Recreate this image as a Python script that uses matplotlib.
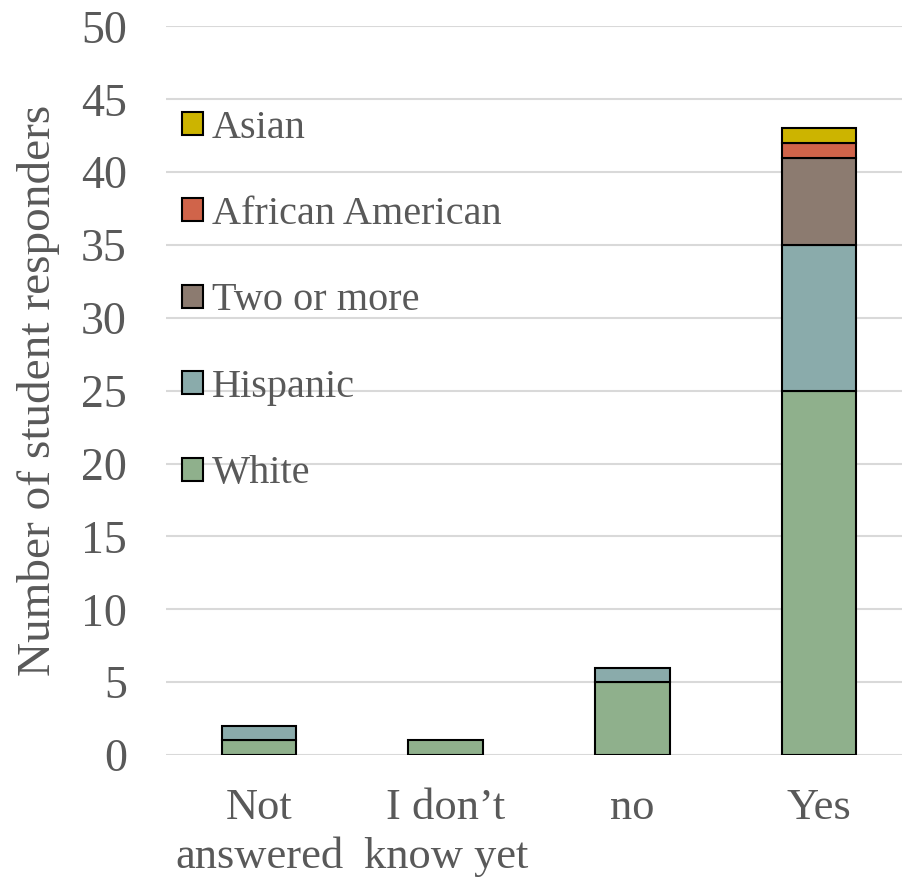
import matplotlib
matplotlib.use("Agg")
import matplotlib.pyplot as plt
import numpy as np

categories = ["Not\nanswered", "I don\u2019t\nknow yet", "no", "Yes"]
series_names = ["White", "Hispanic", "Two or more", "African American", "Asian"]
white = [1, 1, 5, 25]
hispanic = [1, 0, 1, 10]
two_or_more = [0, 0, 0, 6]
african_american = [0, 0, 0, 1]
asian = [0, 0, 0, 1]
colors = ["#8fb08c", "#8aabab", "#8c7b70", "#d0644a", "#ccb400"]

plt.rcParams["font.family"] = ["Liberation Serif", "DejaVu Serif"]
text_color = "#595959"

fig = plt.figure(figsize=(9.03, 8.82), dpi=100)
ax = fig.add_axes([0.1835, 0.144, 0.827, 0.826])

x = np.arange(len(categories))
bottom = np.zeros(len(categories))
handles = []
for name, vals, col in zip(series_names,
                           [white, hispanic, two_or_more, african_american, asian],
                           colors):
    vals = np.array(vals, dtype=float)
    mask = vals > 0
    b = ax.bar(x[mask], vals[mask], bottom=bottom[mask], width=0.4,
               color=col, edgecolor="black", linewidth=1.5, label=name, zorder=3)
    handles.append(b)
    bottom += vals

ax.set_xlim(-0.5, 3.5)
ax.set_ylim(0, 50)
ax.set_yticks(np.arange(0, 51, 5))
ax.yaxis.grid(True, color="#d9d9d9", linewidth=1.5, zorder=0)
ax.set_axisbelow(True)
for s in ax.spines.values():
    s.set_visible(False)
ax.tick_params(axis="both", length=0, colors=text_color)
ax.tick_params(axis="y", pad=28, labelsize=33)
ax.tick_params(axis="x", pad=24, labelsize=32)
ax.set_xticks(x)
ax.set_xticklabels(categories, linespacing=1.28)
ax.set_ylabel("Number of student responders", fontsize=34, color=text_color, labelpad=15)

leg = ax.legend(handles[::-1], series_names[::-1], loc="upper left",
                bbox_to_anchor=(0.0224, 0.886), frameon=False, fontsize=29,
                labelcolor=text_color, handlelength=0.5, handleheight=0.5,
                handletextpad=0.23, labelspacing=1.228, borderaxespad=0.0,
                borderpad=0.0)

fig.savefig("out.png", dpi=100)
